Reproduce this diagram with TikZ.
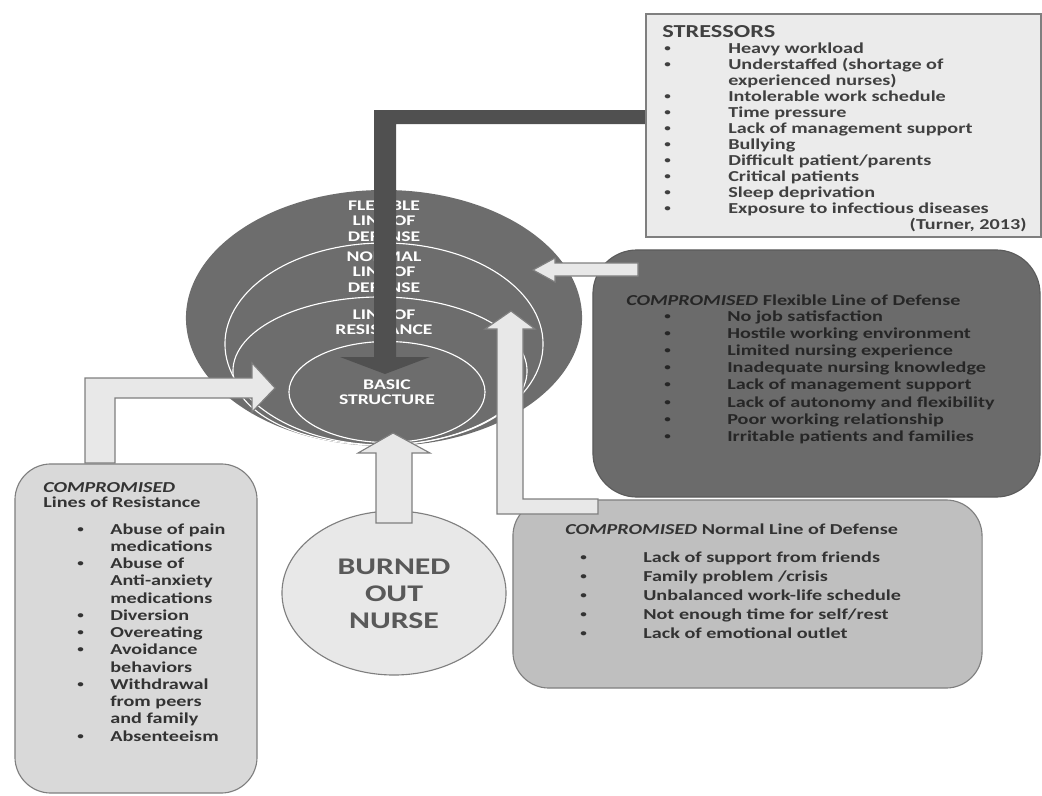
\documentclass[tikz,border=0pt]{standalone}
\usepackage{fontspec}
\setmainfont{Carlito}[FakeStretch=1.33]
\usetikzlibrary{shapes.geometric}

\definecolor{ringgray}{HTML}{6D6D6D}
\definecolor{stemgray}{HTML}{505050}
\definecolor{boxlight}{HTML}{EBEBEB}
\definecolor{boxmid}{HTML}{BFBFBF}
\definecolor{boxleft}{HTML}{D9D9D9}
\definecolor{boxdark}{HTML}{6B6B6B}
\definecolor{edgegray}{HTML}{7F7F7F}
\definecolor{inkgray}{HTML}{333333}
\definecolor{nurseink}{HTML}{595959}
\definecolor{arrowfill}{HTML}{E8E8E8}

\tikzset{
  ring/.style={ellipse, draw=white, line width=0.8pt, inner sep=0pt},
  ringlabel/.style={align=center, inner sep=0pt, text=white,
    font=\fontsize{10.5}{11}\selectfont\bfseries},
  listtext/.style={anchor=base west, inner sep=0pt, text=inkgray,
    font=\fontsize{10.8}{12}\selectfont\bfseries},
  dot/.style={anchor=base west, inner sep=0pt, text=inkgray, yshift=1.3pt,
    font=\fontsize{7}{8}\selectfont\bfseries},
  fatarrow/.style={fill=arrowfill, draw=edgegray, line width=0.8pt},
  roundbox/.style={rectangle, rounded corners=0.9cm, draw=edgegray, line width=0.8pt}
}

\begin{document}
\begin{tikzpicture}[x=0.025cm, y=-0.025cm]
\useasboundingbox (0,0) rectangle (1042,796);

% Rings of the client system
\node[ellipse, fill=ringgray, inner sep=0pt, minimum width=9.9cm, minimum height=6.4cm] (flexible) at (384,318) {};
\node[ring, minimum width=7.95cm, minimum height=5.05cm] (normal) at (384,344) {};
\node[ring, minimum width=7.35cm, minimum height=3.7cm] (resistance) at (380,371) {};
\node[ring, minimum width=4.9cm, minimum height=2.525cm] (basic) at (387,392) {};

\node[ringlabel] (flexlbl) at (384,221) {FLEXIBLE\\LINE OF\\DEFENSE};
\node[ringlabel] (normlbl) at (384,272) {NORMAL\\LINE OF\\DEFENSE};
\node[ringlabel] (reslbl) at (384,322) {LINE OF\\RESISTANCE};
\node[ringlabel] (baselbl) at (387,392) {BASIC\\STRUCTURE};

% Stressors arrow down into the basic structure
\fill[stemgray] (646,110) -- (374,110) -- (374,357) -- (340,357) -- (385,374)
  -- (430,357) -- (396,357) -- (396,124) -- (646,124) -- cycle;

% Stressors
\node[rectangle, fill=boxlight, draw=edgegray, line width=0.8pt, minimum width=9.875cm, minimum height=5.575cm] (stressors) at (843.5,125.5) {};
\node[listtext, text=black!75, font=\fontsize{13}{14}\selectfont\bfseries] (stresstitle) at (662,37) {STRESSORS};
\foreach \b/\t [count=\i] in {1/Heavy workload, 1/Understaffed (shortage of, 0/experienced nurses),
    1/Intolerable work schedule, 1/Time pressure, 1/Lack of management support, 1/Bullying,
    1/{Difficult patient/parents}, 1/Critical patients, 1/Sleep deprivation,
    1/Exposure to infectious diseases}{
  \node[listtext, text=black!75] (str\i) at (728,{53+16*(\i-1)}) {\t};
  \ifnum\b=1 \node[dot, text=black!75] (strb\i) at (664,{53+16*(\i-1)}) {\textbullet};\fi
}
\node[listtext, text=black!75, anchor=base east] (turner) at (1027,229) {(Turner, 2013)};

% Compromised flexible line of defense
\node[roundbox, fill=boxdark, draw=boxdark!85!black, rounded corners=1.1cm, minimum width=11.175cm, minimum height=6.175cm] (flexbox) at (816.5,373.5) {};
\node[listtext, text=black!85] (flextitle) at (626,305) {\textit{COMPROMISED} Flexible Line of Defense};
\foreach \t [count=\i] in {No job satisfaction, Hostile working environment,
    Limited nursing experience, Inadequate nursing knowledge, Lack of management support,
    Lack of autonomy and flexibility, Poor working relationship, Irritable patients and families}{
  \node[listtext, text=black!85] (flx\i) at (727,{321+17.2*(\i-1)}) {\t};
  \node[dot, text=black!85] (flxb\i) at (664,{321+17.2*(\i-1)}) {\textbullet};
}
\draw[fatarrow] (638,263) -- (555,263) -- (555,258) -- (533,270) -- (555,282)
  -- (555,276) -- (638,276) -- cycle;

% Compromised normal line of defense
\node[roundbox, fill=boxmid, minimum width=11.725cm, minimum height=4.7cm] (normbox) at (747.5,594) {};
\node[listtext] (normtitle) at (565,534) {\textit{COMPROMISED} Normal Line of Defense};
\foreach \t [count=\i] in {Lack of support from friends, Family problem /crisis,
    Unbalanced work-life schedule, Not enough time for self/rest, Lack of emotional outlet}{
  \node[listtext] (nrm\i) at (643,{562+19*(\i-1)}) {\t};
  \node[dot] (nrmb\i) at (580,{562+19*(\i-1)}) {\textbullet};
}
\draw[fatarrow] (598,514) -- (497,514) -- (497,329) -- (485,329) -- (511,311)
  -- (535,329) -- (523,329) -- (523,499) -- (598,499) -- cycle;

% Compromised lines of resistance
\node[roundbox, fill=boxleft, minimum width=6.05cm, minimum height=8.225cm] (resbox) at (136,628.5) {};
\node[listtext] (restitle) at (43,492) {\textit{COMPROMISED}};
\node[listtext] (restitle2) at (43,507) {Lines of Resistance};
\foreach \b/\t [count=\i] in {1/Abuse of pain, 0/medications, 1/Abuse of, 0/Anti-anxiety,
    0/medications, 1/Diversion, 1/Overeating, 1/Avoidance, 0/behaviors, 1/Withdrawal,
    0/from peers, 0/and family, 1/Absenteeism}{
  \node[listtext] (res\i) at (110,{534+17.25*(\i-1)}) {\t};
  \ifnum\b=1 \node[dot] (resb\i) at (77,{534+17.25*(\i-1)}) {\textbullet};\fi
}
\draw[fatarrow] (85,463) -- (85,378) -- (252,378) -- (252,363) -- (275,388)
  -- (252,412) -- (252,398) -- (115,398) -- (115,463) -- cycle;

% Burned out nurse
\node[ellipse, fill=arrowfill, draw=edgegray, line width=0.8pt, inner sep=0pt, minimum width=5.6cm, minimum height=4.1cm] (nurse) at (394,593) {};
\node[align=center, inner sep=0pt, text=nurseink, font=\fontsize{17}{19}\selectfont\bfseries] (nurselbl) at (394,594) {BURNED\\OUT\\NURSE};
\draw[fatarrow] (376,523) -- (376,453) -- (358,453) -- (393,433) -- (430,453)
  -- (412,453) -- (412,523) -- cycle;
\end{tikzpicture}
\end{document}
